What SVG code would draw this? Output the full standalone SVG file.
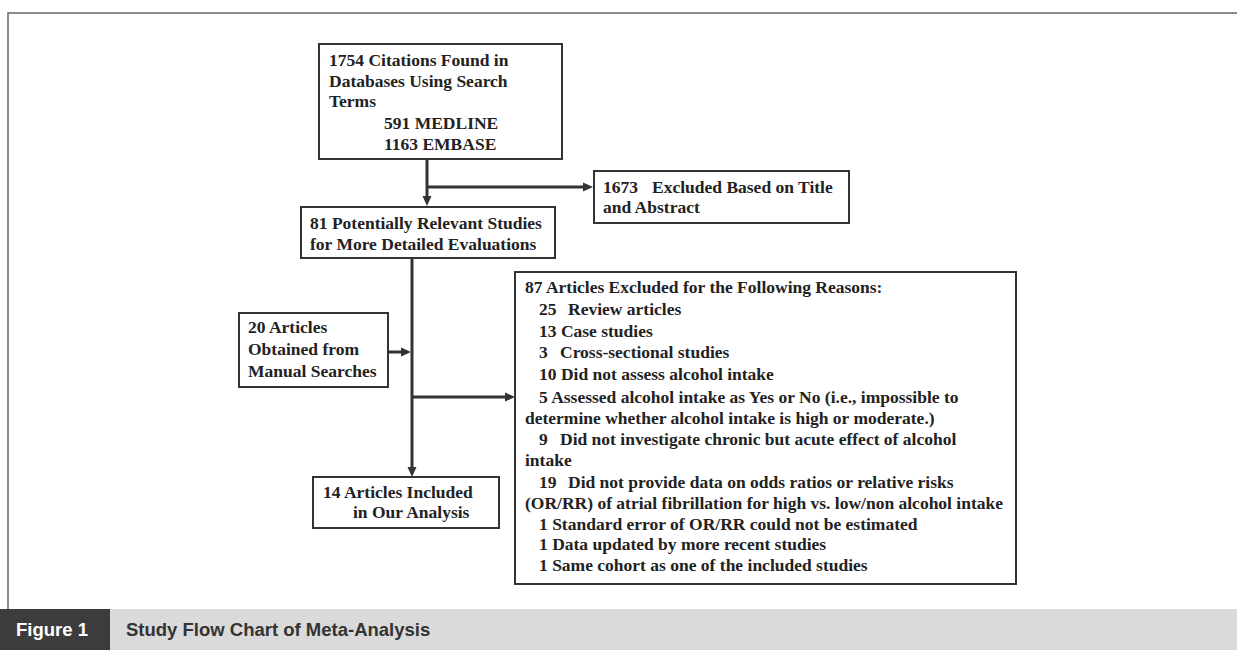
<svg xmlns="http://www.w3.org/2000/svg" width="1237" height="650" viewBox="0 0 1237 650">
<defs>
<style>
.box{fill:#fff;stroke:#333;stroke-width:2}
.t{font-family:"Liberation Serif","Times New Roman",serif;font-weight:bold;font-size:17.5px;fill:#222}
.c{fill:none;stroke:#333;stroke-width:3}
.frame{fill:none;stroke:#666;stroke-width:1.5}
</style>
<marker id="ah" markerUnits="userSpaceOnUse" markerWidth="11" markerHeight="10" refX="4" refY="5" orient="auto">
<path d="M0,0.5 L10,5 L0,9.5 z" fill="#333"/>
</marker>
</defs>
<rect x="0" y="0" width="1237" height="650" fill="#fff"/>
<g id="frame">
<path class="frame" d="M8,609 V13 H1237"/>
</g>
<g id="caption">
<rect x="0" y="609" width="1237" height="41" fill="#dadada"/>
<rect x="0" y="609" width="110" height="41" fill="#3c3c3c"/>
<text x="16" y="636" font-family="Liberation Sans,Arial,sans-serif" font-weight="bold" font-size="18.5" fill="#fff">Figure 1</text>
<text x="126" y="636" font-family="Liberation Sans,Arial,sans-serif" font-weight="bold" font-size="18.5" fill="#333">Study Flow Chart of Meta-Analysis</text>
</g>
<g id="connectors">
<path class="c" d="M427,159 V200" marker-end="url(#ah)"/>
<path class="c" d="M427,187 H587" marker-end="url(#ah)"/>
<path class="c" d="M412,258 V471" marker-end="url(#ah)"/>
<path class="c" d="M388,352 H405" marker-end="url(#ah)"/>
<path class="c" d="M412,397 H509" marker-end="url(#ah)"/>
</g>
<g id="n1">
<rect class="box" x="319" y="44" width="243" height="115"/>
<text class="t" x="329" y="66">1754 Citations Found in</text>
<text class="t" x="329" y="87">Databases Using Search</text>
<text class="t" x="329" y="107">Terms</text>
<text class="t" x="384" y="129">591 MEDLINE</text>
<text class="t" x="384" y="150">1163 EMBASE</text>
</g>
<g id="n2">
<rect class="box" x="594" y="171" width="255" height="52"/>
<text class="t" x="603" y="193">1673<tspan x="652">Excluded Based on Title</tspan></text>
<text class="t" x="603" y="213">and Abstract</text>
</g>
<g id="n3">
<rect class="box" x="301" y="207" width="254" height="51"/>
<text class="t" x="310" y="229">81 Potentially Relevant Studies</text>
<text class="t" x="310" y="250">for More Detailed Evaluations</text>
</g>
<g id="n4">
<rect class="box" x="239" y="313" width="149" height="74"/>
<text class="t" x="248" y="333">20 Articles</text>
<text class="t" x="248" y="355">Obtained from</text>
<text class="t" x="248" y="377">Manual Searches</text>
</g>
<g id="n5">
<rect class="box" x="313" y="477" width="186" height="51"/>
<text class="t" x="323" y="498">14 Articles Included</text>
<text class="t" x="353" y="518">in Our Analysis</text>
</g>
<g id="n6">
<rect class="box" x="515" y="272" width="501" height="312"/>
<text class="t" x="525" y="293">87 Articles Excluded for the Following Reasons:</text>
<text class="t" x="539" y="315">25<tspan x="568">Review articles</tspan></text>
<text class="t" x="539" y="337">13 Case studies</text>
<text class="t" x="539" y="358">3<tspan x="560">Cross-sectional studies</tspan></text>
<text class="t" x="539" y="380">10 Did not assess alcohol intake</text>
<text class="t" x="539" y="403">5 Assessed alcohol intake as Yes or No (i.e., impossible to</text>
<text class="t" x="525" y="424">determine whether alcohol intake is high or moderate.)</text>
<text class="t" x="539" y="445">9<tspan x="560">Did not investigate chronic but acute effect of alcohol</tspan></text>
<text class="t" x="525" y="466">intake</text>
<text class="t" x="539" y="488">19<tspan x="568">Did not provide data on odds ratios or relative risks</tspan></text>
<text class="t" x="525" y="509">(OR/RR) of atrial fibrillation for high vs. low/non alcohol intake</text>
<text class="t" x="539" y="530">1 Standard error of OR/RR could not be estimated</text>
<text class="t" x="539" y="550">1 Data updated by more recent studies</text>
<text class="t" x="539" y="571">1 Same cohort as one of the included studies</text>
</g>
</svg>
